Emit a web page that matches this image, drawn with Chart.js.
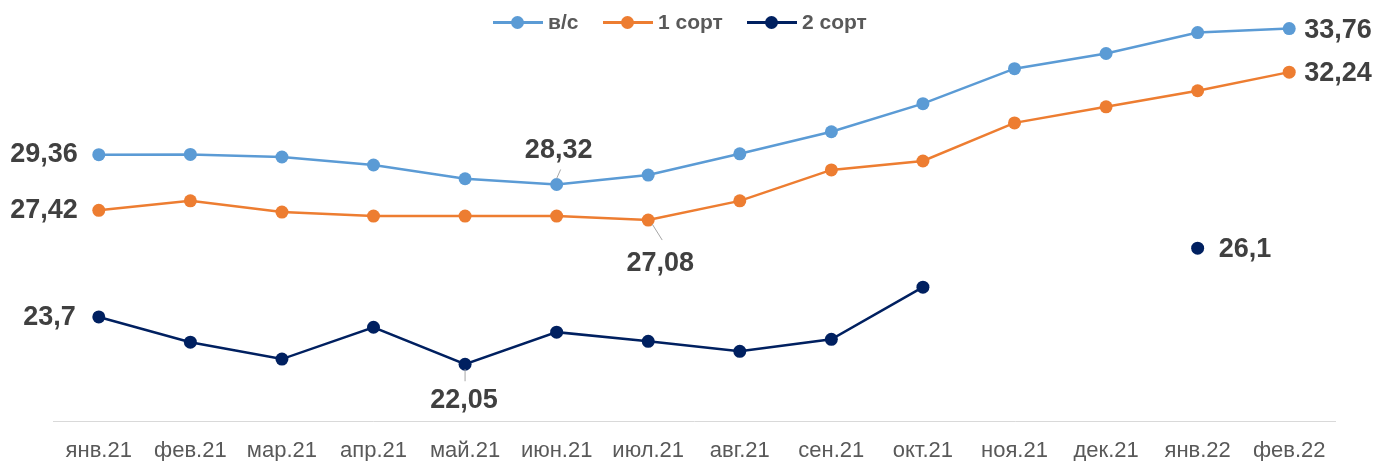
<!DOCTYPE html>
<html>
<head>
<meta charset="utf-8">
<script src="https://cdn.jsdelivr.net/npm/chart.js@4.4.0/dist/chart.umd.min.js"></script>
<style>
    body { margin: 0; background: #ffffff; }
    #wrap { position: relative; width: 1374px; height: 461px; }
    .item {
        position: absolute; top: 10px; height: 24px;
        display: flex; align-items: center; gap: 5px;
        font-family: "Liberation Sans", Arial, sans-serif; font-weight: bold;
        font-size: 21px; color: #595959;
    }
    .linha { position: relative; width: 50px; height: 3px; }
    .bola { position: absolute; left: 18px; top: -5px; width: 13px; height: 13px; border-radius: 50%; }
</style>
</head>
<body>
<div id="wrap">
    <canvas id="myChart" width="1374" height="461"></canvas>
    <div id="legenda"></div>
</div>
<script>
const meses = ['янв.21', 'фев.21', 'мар.21', 'апр.21', 'май.21', 'июн.21', 'июл.21',
    'авг.21', 'сен.21', 'окт.21', 'ноя.21', 'дек.21', 'янв.22', 'фев.22'];

const vs = [29.36, 29.37, 29.28, 29.0, 28.52, 28.32, 28.65, 29.39, 30.16, 31.14, 32.36, 32.89, 33.62, 33.76];
const sort1 = [27.42, 27.75, 27.36, 27.22, 27.22, 27.22, 27.08, 27.75, 28.83, 29.14, 30.47, 31.03, 31.59, 32.24];
const sort2 = [23.7, 22.82, 22.23, 23.34, 22.05, 23.17, 22.85, 22.5, 22.92, 24.74, null, null, 26.1, null];

const series = [
    { label: 'в/с', data: vs, cor: '#5B9BD5', x: 493 },
    { label: '1 сорт', data: sort1, cor: '#ED7D31', x: 603 },
    { label: '2 сорт', data: sort2, cor: '#002060', x: 747 }
];

// rotulos de dados: serie, indice, deslocamento
const rotulos = [
    { s: 0, i: 0, dx: -21, dy: 0, align: 'right' },
    { s: 1, i: 0, dx: -21, dy: 0, align: 'right' },
    { s: 2, i: 0, dx: -23, dy: 1, align: 'right' },
    { s: 0, i: 5, dx: 2, dy: -34, align: 'center', linha: [4, -15, 0, -6] },
    { s: 1, i: 6, dx: 12, dy: 43, align: 'center', linha: [4, 4, 14, 20] },
    { s: 2, i: 4, dx: -1, dy: 36, align: 'center', linha: [0, 5, 0, 17] },
    { s: 0, i: 13, dx: 15, dy: 2, align: 'left' },
    { s: 1, i: 13, dx: 15, dy: 1, align: 'left' },
    { s: 2, i: 12, dx: 21, dy: 1, align: 'left' }
];

const pluginRotulos = {
    id: 'rotulos',
    afterDatasetsDraw(chart) {
        const ctx = chart.ctx;
        ctx.save();
        for (let r of rotulos) {
            const ponto = chart.getDatasetMeta(r.s).data[r.i];
            const valor = series[r.s].data[r.i];
            if (r.linha) {
                ctx.strokeStyle = '#a6a6a6';
                ctx.lineWidth = 1;
                ctx.beginPath();
                ctx.moveTo(ponto.x + r.linha[0], ponto.y + r.linha[1]);
                ctx.lineTo(ponto.x + r.linha[2], ponto.y + r.linha[3]);
                ctx.stroke();
            }
            ctx.font = 'bold 27px "Liberation Sans", Arial, sans-serif';
            ctx.fillStyle = '#404040';
            ctx.textAlign = r.align;
            ctx.textBaseline = 'middle';
            ctx.fillText(String(valor).replace('.', ','), ponto.x + r.dx, ponto.y + r.dy);
        }
        ctx.restore();
    }
};

const legenda = document.getElementById('legenda');
let html = '';
for (let s of series) {
    html += `<div class="item" style="left:${s.x}px"><div class="linha" style="background:${s.cor}"><div class="bola" style="background:${s.cor}"></div></div><span>${s.label}</span></div>`;
}
legenda.innerHTML = html;

const config = {
    type: 'line',
    data: {
        labels: meses,
        datasets: series.map(s => ({
            label: s.label,
            data: s.data,
            borderColor: s.cor,
            backgroundColor: s.cor,
            borderWidth: 2.5,
            pointRadius: 6.5,
            pointHoverRadius: 6.5,
            pointBorderWidth: 0,
            tension: 0,
            spanGaps: false,
            clip: false
        }))
    },
    options: {
        responsive: false,
        animation: false,
        layout: { padding: { left: 53, right: 39, top: 0, bottom: 0 } },
        plugins: { legend: { display: false }, tooltip: { enabled: false } },
        scales: {
            x: {
                offset: true,
                grid: { display: false, drawTicks: false },
                border: { display: true, color: '#d9d9d9', width: 1 },
                ticks: {
                    padding: 17,
                    color: '#595959',
                    font: { family: '"Liberation Sans", Arial, sans-serif', size: 22 },
                    maxRotation: 0,
                    autoSkip: false
                },
                afterFit(scale) { scale.height = 40; }
            },
            y: {
                display: false,
                min: 20.07,
                max: 34.53
            }
        }
    },
    plugins: [pluginRotulos]
};

const myChart = new Chart(document.getElementById('myChart'), config);
</script>
</body>
</html>
